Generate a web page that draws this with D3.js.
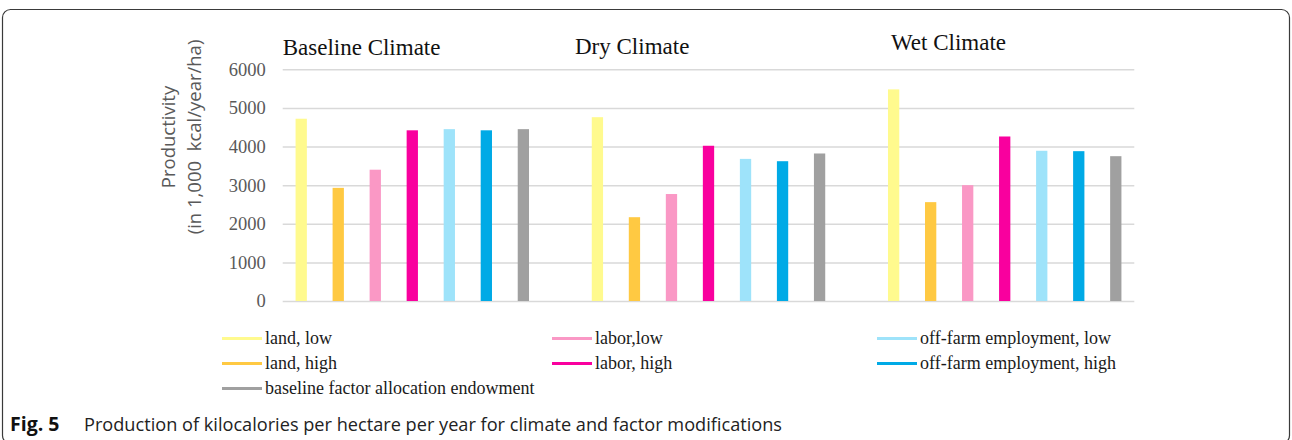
<!DOCTYPE html>
<html>
<head>
<meta charset="utf-8">
<script src="https://cdn.jsdelivr.net/npm/d3@7/dist/d3.min.js"></script>
<style>
  html, body { margin: 0; padding: 0; background: #fff; }
  svg { display: block; }
</style>
</head>
<body>
<svg id="chart" width="1292" height="440"></svg>
<script>
// ---------------- DATA ----------------
const climates = ["Baseline Climate", "Dry Climate", "Wet Climate"];
const seriesNames = [
  "land, low",
  "land, high",
  "labor,low",
  "labor, high",
  "off-farm employment, low",
  "off-farm employment, high",
  "baseline factor allocation endowment"
];
const landLow   = [4720, 4760, 5480];
const landHigh  = [2930, 2170, 2560];
const laborLow  = [3400, 2770, 3000];
const laborHigh = [4420, 4020, 4260];
const offFarmLow  = [4450, 3680, 3890];
const offFarmHigh = [4420, 3620, 3880];
const baselineAlloc = [4450, 3820, 3750];
const yTickValues = [0, 1000, 2000, 3000, 4000, 5000, 6000];
const yTitleLines = ["Productivity", "(in 1,000  kcal/year/ha)"];
const captionLabel = "Fig. 5";
const captionText = "Production of kilocalories per hectare per year for climate and factor modifications";

// ---------------- STYLE / LAYOUT ----------------
const seriesColors = ["#FFFA8E", "#FFC942", "#FA98C5", "#F9009E", "#9EE3FA", "#00AAE6", "#A0A0A0"];
const seriesValues = [landLow, landHigh, laborLow, laborHigh, offFarmLow, offFarmHigh, baselineAlloc];

const plotLeft = 282.7, plotRight = 1134.3, plotBottom = 301, plotTop = 69.3;
const titlePos = [[282.7, 54.5], [575, 53.5], [891, 49.5]];
const legendCols = [222, 552, 877];
const legendRows = [338.5, 363.5, 388.5];
const serif = "'Liberation Serif', 'Times New Roman', serif";
const sans = "'Open Sans', 'Noto Sans', sans-serif";

const svg = d3.select("#chart");

// frame
svg.append("rect")
  .attr("x", 2.5).attr("y", 9.5)
  .attr("width", 1287).attr("height", 434)
  .attr("rx", 8).attr("ry", 8)
  .attr("fill", "none").attr("stroke", "#3a3a3a").attr("stroke-width", 1.2);

// slot domain: 7 bars per climate with an empty slot between climates
const slots = [];
climates.forEach((c, gi) => {
  seriesNames.forEach((s, si) => slots.push(gi + "-" + si));
  if (gi < climates.length - 1) slots.push("gap" + gi);
});
const pad = 0.695;
const x = d3.scaleBand().domain(slots).range([plotLeft, plotRight])
  .paddingInner(pad).paddingOuter(pad / 2);
const y = d3.scaleLinear().domain([0, 6000]).range([plotBottom, plotTop]);

// gridlines + labels
const yAxis = d3.axisLeft(y).tickValues(yTickValues)
  .tickSize(-(plotRight - plotLeft)).tickPadding(17).tickFormat(d3.format("d"));
const gy = svg.append("g").attr("transform", `translate(${plotLeft},0)`).call(yAxis);
gy.select(".domain").remove();
gy.selectAll(".tick line").attr("stroke", "#d9d9d9").attr("stroke-width", 1.5);
gy.selectAll(".tick text")
  .attr("font-family", serif).attr("font-size", 18.5).attr("fill", "#595959");

// bars
const barData = [];
climates.forEach((c, gi) => {
  seriesNames.forEach((s, si) => {
    barData.push({ key: gi + "-" + si, value: seriesValues[si][gi], color: seriesColors[si] });
  });
});
svg.append("g").selectAll("rect").data(barData).join("rect")
  .attr("x", d => x(d.key))
  .attr("width", x.bandwidth())
  .attr("y", d => y(d.value))
  .attr("height", d => y(0) - y(d.value))
  .attr("fill", d => d.color);

// climate titles
svg.append("g").selectAll("text").data(climates).join("text")
  .attr("x", (d, i) => titlePos[i][0])
  .attr("y", (d, i) => titlePos[i][1])
  .attr("font-family", serif).attr("font-size", 23).attr("fill", "#111")
  .text(d => d);

// y-axis title
const yTitleX = [175, 201];
yTitleLines.forEach((t, i) => {
  svg.append("text")
    .attr("transform", `translate(${yTitleX[i]},137) rotate(-90)`)
    .attr("text-anchor", "middle")
    .attr("font-family", sans).attr("font-size", 18.5).attr("fill", "#595959")
    .attr("xml:space", "preserve")
    .style("white-space", "pre")
    .text(t);
});

// legend
const legend = svg.append("g");
seriesNames.forEach((name, i) => {
  const col = i === 6 ? 0 : Math.floor(i / 2);
  const row = i === 6 ? 2 : i % 2;
  const lx = legendCols[col], ly = legendRows[row];
  legend.append("line")
    .attr("x1", lx).attr("x2", lx + 40).attr("y1", ly).attr("y2", ly)
    .attr("stroke", seriesColors[i]).attr("stroke-width", 3);
  legend.append("text")
    .attr("x", lx + 43).attr("y", ly).attr("dy", "0.33em")
    .attr("font-family", serif).attr("font-size", 18).attr("fill", "#1a1a1a")
    .text(name);
});

// caption
svg.append("text")
  .attr("x", 10).attr("y", 431)
  .attr("font-family", sans).attr("font-size", 19.5).attr("font-weight", "bold").attr("fill", "#111")
  .text(captionLabel);
svg.append("text")
  .attr("x", 84).attr("y", 431)
  .attr("font-family", sans).attr("font-size", 17.5).attr("fill", "#222")
  .attr("textLength", 698).attr("lengthAdjust", "spacingAndGlyphs")
  .text(captionText);
</script>
</body>
</html>
